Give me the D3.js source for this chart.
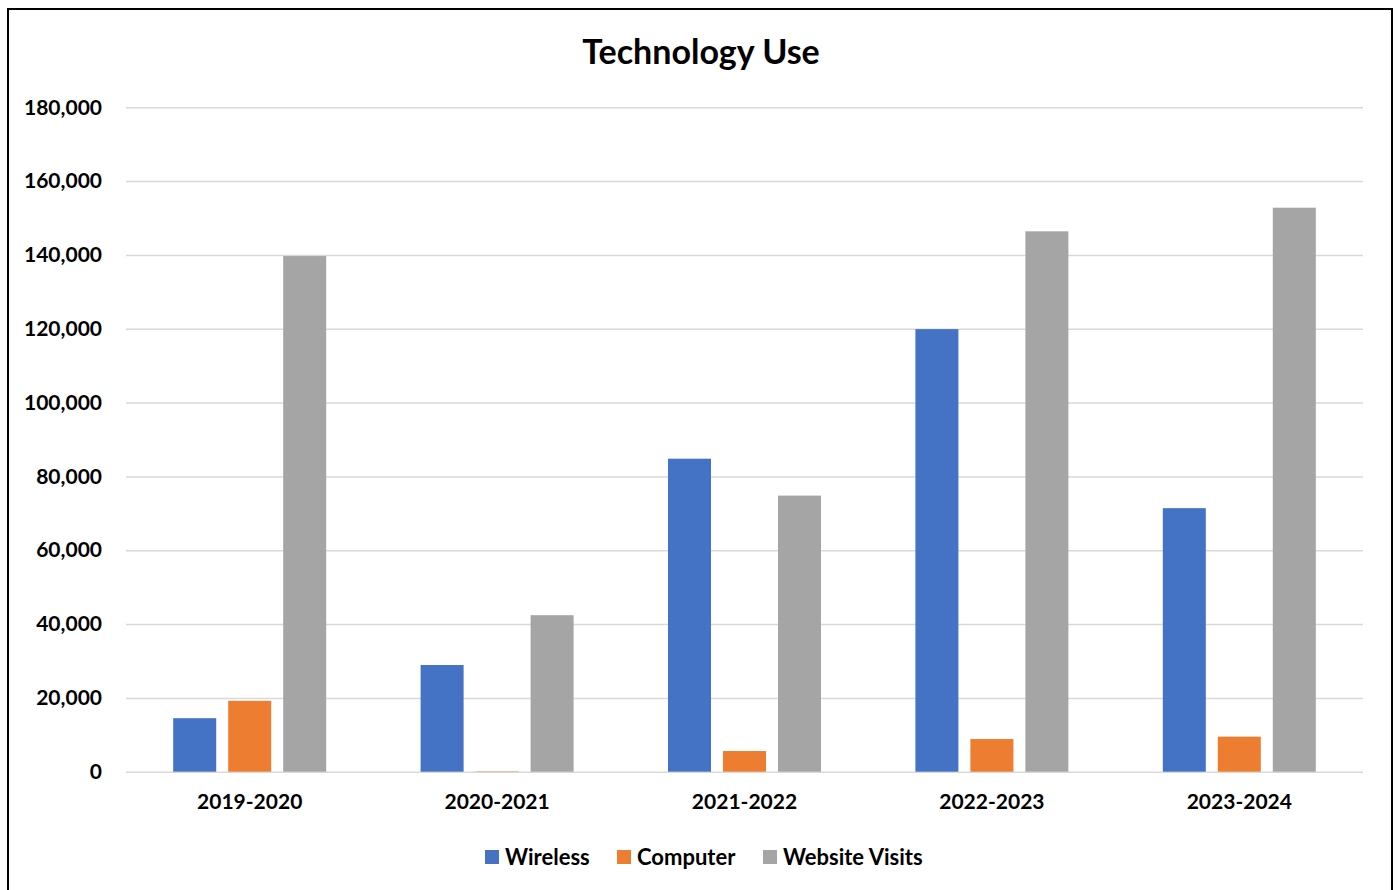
<!DOCTYPE html>
<html>
<head>
<meta charset="utf-8">
<script src="https://cdn.jsdelivr.net/npm/d3@7"></script>
<style>
  html, body { margin: 0; padding: 0; background: #fff; }
  svg { display: block; }
  text { font-family: Lato, "Open Sans", sans-serif; font-weight: bold; fill: #000; }
</style>
</head>
<body>
<svg id="chart" width="1398" height="890"></svg>
<script>
const categories = ["2019-2020", "2020-2021", "2021-2022", "2022-2023", "2023-2024"];
const seriesNames = ["Wireless", "Computer", "Website Visits"];
const wireless = [14500, 28900, 84800, 119900, 71400];
const computer = [19200, 100, 5600, 8850, 9500];
const websiteVisits = [139700, 42400, 74800, 146400, 152800];
const yTicks = [0, 20000, 40000, 60000, 80000, 100000, 120000, 140000, 160000, 180000];
const colors = ["#4472C4", "#ED7D31", "#A5A5A5"];

const seriesValues = [wireless, computer, websiteVisits];
const data = categories.map((c, i) => ({
  category: c,
  values: seriesNames.map((s, j) => ({ series: s, value: seriesValues[j][i] }))
}));

const svg = d3.select("#chart");
const plot = { left: 126, right: 1363, top: 107.3, bottom: 771.7 };

// outer border
svg.append("rect")
  .attr("x", 8).attr("y", 9).attr("width", 1384).attr("height", 900)
  .attr("fill", "#fff").attr("stroke", "#000").attr("stroke-width", 2);

const x0 = d3.scaleBand().domain(categories).range([plot.left, plot.right]).padding(0);
const groupW = 153;
const x1 = d3.scaleBand().domain(seriesNames)
  .range([(x0.bandwidth() - groupW) / 2, (x0.bandwidth() + groupW) / 2])
  .paddingInner(0.218).paddingOuter(0);
const y = d3.scaleLinear().domain([0, 180000]).range([plot.bottom, plot.top]);
const color = d3.scaleOrdinal().domain(seriesNames).range(colors);

// gridlines
const yAxis = d3.axisLeft(y).tickValues(yTicks)
  .tickSize(-(plot.right - plot.left))
  .tickFormat(d3.format(","))
  .tickPadding(24);
const gy = svg.append("g").attr("transform", `translate(${plot.left},0)`).call(yAxis);
gy.select(".domain").remove();
gy.selectAll(".tick line").attr("stroke", "#D9D9D9").attr("stroke-width", 1.5);
gy.selectAll(".tick text").attr("font-size", 21).attr("fill", "#000")
  .style("font-family", "Lato, sans-serif").style("font-weight", "bold");

// bars
const groups = svg.append("g").selectAll("g").data(data).join("g")
  .attr("transform", d => `translate(${x0(d.category)},0)`);
groups.selectAll("rect").data(d => d.values).join("rect")
  .attr("x", d => x1(d.series))
  .attr("width", x1.bandwidth())
  .attr("y", d => y(d.value))
  .attr("height", d => y(0) - y(d.value))
  .attr("fill", d => color(d.series));

// x axis labels
const xAxis = d3.axisBottom(x0).tickSize(0).tickPadding(22);
const gx = svg.append("g").attr("transform", `translate(0,${plot.bottom})`).call(xAxis);
gx.select(".domain").remove();
gx.selectAll(".tick text").attr("font-size", 21).attr("fill", "#000")
  .style("font-family", "Lato, sans-serif").style("font-weight", "bold");

// title
svg.append("text").attr("x", 701).attr("y", 64).attr("text-anchor", "middle")
  .attr("font-size", 34).text("Technology Use");

// legend
const legendX = [485, 617, 763];
const lg = svg.append("g").selectAll("g").data(seriesNames).join("g")
  .attr("transform", (d, i) => `translate(${legendX[i]},850)`);
lg.append("rect").attr("width", 14).attr("height", 14).attr("fill", d => color(d));
lg.append("text").attr("x", 20).attr("y", 14.5).attr("font-size", 22).text(d => d);
</script>
</body>
</html>
